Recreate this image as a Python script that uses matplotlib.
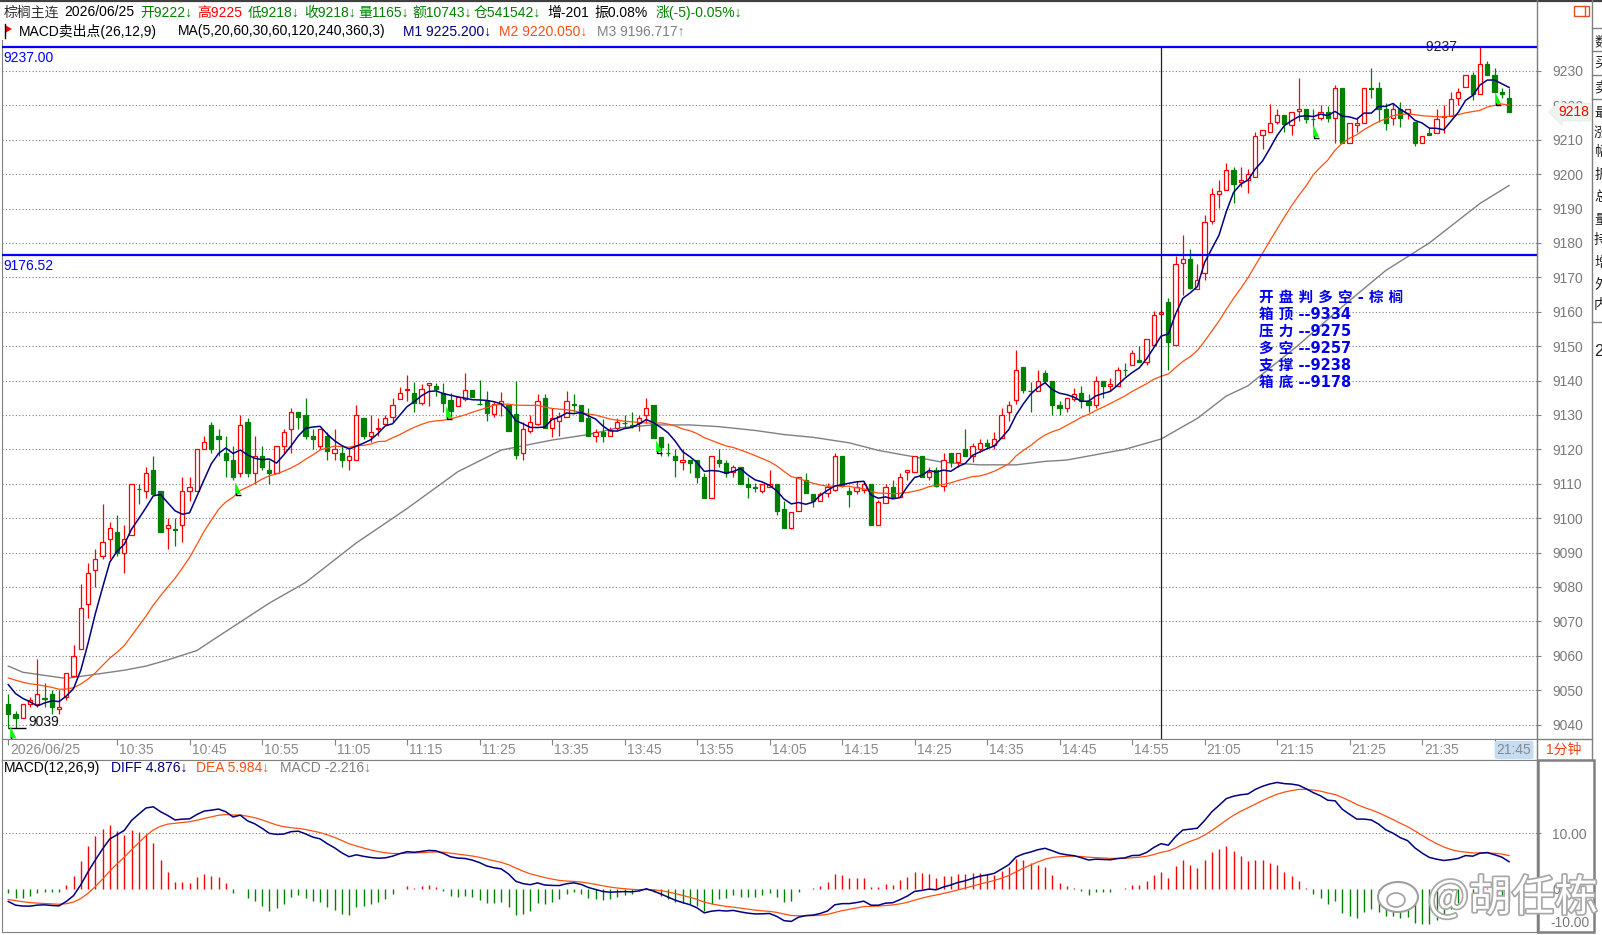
import numpy as np
import pandas as pd
import matplotlib
matplotlib.use("Agg")
import matplotlib.pyplot as plt
import matplotlib.patheffects as pe
import matplotlib.transforms as mtransforms
from matplotlib.lines import Line2D
from matplotlib.patches import Rectangle, Polygon, Ellipse
from matplotlib.path import Path

plt.rcParams['font.family'] = ['Liberation Sans', 'Noto Sans CJK SC', 'DejaVu Sans']

# ---- 1-minute bars (棕榈主连 2026/06/25) ----
opens = [
    9046, 9043, 9042, 9046, 9046, 9047.6, 9049, 9044.5, 9048, 9054,
    9062, 9075, 9085, 9089, 9094, 9096, 9090, 9095, 9108.6, 9108,
    9114, 9108, 9097, 9096.9, 9098, 9108, 9108, 9120, 9127, 9124,
    9119, 9117, 9113, 9128, 9113, 9118, 9114, 9113, 9121, 9126,
    9131, 9130, 9124, 9121, 9124, 9119, 9119, 9117, 9117, 9129,
    9124, 9126, 9127.5, 9129.5, 9134.5, 9137.2, 9136.5, 9133.5, 9138.7, 9138.3,
    9136.4, 9134.4, 9132.5, 9134.6, 9137.3, 9133.3, 9134.2, 9130.3, 9133.2, 9133,
    9130.3, 9119, 9125.2, 9127.3, 9134.9, 9126.2, 9128.1, 9129.4, 9133.1, 9133,
    9129.1, 9124, 9125, 9124, 9126.2, 9127.7, 9127.1, 9127.6, 9130.1, 9133,
    9123.7, 9118.9, 9118.1, 9116.2, 9116.9, 9116.9, 9112.1, 9106, 9116.9, 9116.1,
    9113.5, 9114.8, 9109.8, 9109, 9108, 9109.1, 9109.9, 9102.8, 9097.1, 9102.2,
    9111.1, 9107, 9105.1, 9107.3, 9108.2, 9118.1, 9107.9, 9108, 9108.2, 9110,
    9098.1, 9104.4, 9109, 9106.1, 9113.3, 9113.3, 9118.1, 9112.1, 9114, 9109.4,
    9118.9, 9116.2, 9120.1, 9118.2, 9120.2, 9121.8, 9121.3, 9123.2, 9130.9, 9134.3,
    9144, 9137, 9137, 9142.1, 9139.8, 9132.9, 9132.1, 9134.5, 9136.4, 9134,
    9133, 9139.8, 9138.5, 9138.5, 9143.2, 9144.4, 9146.1, 9145.3, 9150.2, 9159.4,
    9162.9, 9150.2, 9174.2, 9175.2, 9166.5, 9171.3, 9186.4, 9194.1, 9195.4, 9201.1,
    9197.8, 9198.3, 9199.3, 9211.4, 9212.3, 9215.2, 9217.1, 9214.3, 9218.3, 9219,
    9216, 9216.3, 9218.2, 9216.3, 9225, 9209.2, 9214.2, 9214.9, 9225.1, 9225,
    9219, 9216.3, 9218.9, 9217.7, 9215.3, 9209.2, 9212.1, 9212.1, 9216.7, 9216.9,
    9222.1, 9225.2, 9228.8, 9223.3, 9232, 9228.8, 9224, 9222]
highs = [
    9049, 9044, 9046, 9048, 9059, 9052, 9050, 9050, 9055, 9063,
    9081, 9087, 9091, 9104, 9099, 9101, 9098, 9110, 9110, 9115,
    9118, 9108, 9100, 9100, 9112, 9112, 9120, 9124, 9128, 9126,
    9124, 9121, 9130, 9129, 9124, 9121, 9117, 9121, 9126, 9132,
    9131, 9135, 9126, 9126, 9125, 9126, 9121, 9120, 9133, 9129,
    9130, 9129, 9130, 9135, 9138, 9141.5, 9139.5, 9139, 9139.2, 9139.3,
    9139.3, 9136.3, 9135.1, 9142.2, 9137.3, 9140.2, 9137.1, 9134.2, 9136.6, 9133,
    9140, 9128, 9130.1, 9136.2, 9136.2, 9132, 9131, 9136.9, 9136.2, 9133,
    9132, 9126, 9128.8, 9126.4, 9129.1, 9130.1, 9130.8, 9130.1, 9134.9, 9133,
    9123.7, 9121.8, 9120, 9120, 9116.9, 9116.9, 9113.2, 9118.1, 9120.1, 9116.9,
    9115.5, 9114.8, 9112.1, 9110.1, 9109.9, 9114, 9109.9, 9105, 9101.9, 9111.9,
    9113.1, 9107, 9107.7, 9110.2, 9118.9, 9118.1, 9109.2, 9110.9, 9110.9, 9110,
    9105.3, 9110, 9111.1, 9113.1, 9114, 9118.1, 9118.1, 9115, 9115, 9118.9,
    9118.9, 9118.9, 9125.9, 9121.8, 9123.1, 9123.1, 9125.1, 9131.9, 9134.1, 9148.8,
    9144, 9139.7, 9143, 9143, 9139.8, 9134.1, 9134.8, 9137.8, 9138.3, 9136,
    9141.3, 9139.8, 9140.8, 9144, 9145.1, 9149, 9150, 9152.1, 9160.2, 9160.4,
    9164, 9176.2, 9182.2, 9178.1, 9174, 9188.1, 9196.1, 9198.3, 9203.1, 9202.2,
    9202.2, 9201.4, 9212.3, 9212.8, 9220.3, 9219, 9217.1, 9218.2, 9228, 9219,
    9218.9, 9220, 9219.7, 9226, 9225, 9214.8, 9216.6, 9225, 9230.8, 9226.9,
    9220.6, 9220.6, 9221.1, 9218.9, 9215.3, 9211.1, 9213.3, 9218.9, 9220.2, 9224,
    9225, 9228.8, 9229.8, 9237, 9233, 9230.8, 9225, 9225]
lows = [
    9039, 9039, 9042, 9045, 9045, 9045, 9043, 9043, 9047, 9054,
    9062, 9071, 9080, 9088, 9088, 9089, 9084, 9095, 9104, 9106,
    9107, 9096, 9091, 9092, 9093, 9105, 9108, 9120, 9119, 9118,
    9112, 9111, 9112, 9112, 9110, 9114, 9110, 9113, 9119, 9119,
    9126, 9123, 9120, 9120, 9117, 9117, 9115, 9114, 9117, 9123,
    9122, 9124, 9127, 9128, 9134.5, 9134, 9131, 9133, 9132.5, 9135.5,
    9131, 9129.3, 9132.5, 9134.2, 9135.1, 9133, 9128.3, 9129.3, 9129.6, 9125.4,
    9117.1, 9117, 9124.7, 9127.1, 9126.2, 9123.7, 9124, 9129.4, 9131, 9128.1,
    9124, 9122, 9122, 9124, 9125.7, 9126.2, 9126.2, 9125.2, 9127.6, 9123.3,
    9118.2, 9118.2, 9112.1, 9114, 9113.2, 9110.1, 9106, 9106, 9114.8, 9112.1,
    9112.1, 9109.9, 9106, 9107.7, 9107.2, 9109.1, 9100.9, 9097, 9096.8, 9102.2,
    9107.3, 9103.2, 9105.1, 9106.1, 9108, 9109.2, 9103.2, 9107.1, 9107.3, 9098.1,
    9098.1, 9104.4, 9106.1, 9106.1, 9111.1, 9113.3, 9112.1, 9111.1, 9109, 9108,
    9115, 9115, 9118.1, 9116.2, 9119.3, 9120.1, 9120.2, 9123.2, 9128.3, 9133.2,
    9136.3, 9131, 9137, 9139.2, 9130, 9130, 9131, 9134, 9132, 9131,
    9132, 9134.9, 9136.9, 9138.5, 9141.3, 9144.4, 9145.3, 9144.4, 9150.2, 9159.4,
    9143.2, 9150.2, 9165, 9166.5, 9166.5, 9169.2, 9185.4, 9190.2, 9195.4, 9191.5,
    9196.3, 9194.4, 9199.3, 9207.4, 9212.3, 9214.5, 9212.3, 9211.3, 9215.5, 9215,
    9213.6, 9215.8, 9215.3, 9209, 9209.2, 9209.2, 9212.4, 9214.9, 9222.1, 9215.3,
    9212.9, 9214.2, 9213.8, 9216.1, 9208.2, 9209.2, 9211.4, 9212.1, 9212.1, 9216.9,
    9220, 9225.2, 9221.6, 9223.3, 9228.8, 9224, 9222.1, 9218]
closes = [
    9043, 9042, 9046, 9047, 9049, 9047.4, 9045, 9045, 9055, 9060,
    9074, 9084, 9088, 9093, 9097, 9090, 9094, 9110, 9108.4, 9113,
    9107, 9096, 9098, 9096.7, 9108, 9109, 9120, 9122, 9120, 9123,
    9117, 9112, 9127, 9113, 9118, 9115, 9113, 9121, 9125, 9131,
    9129.5, 9124, 9123, 9126, 9119.5, 9120, 9117, 9118, 9130, 9124,
    9125, 9126.2, 9129, 9133, 9136.5, 9137.4, 9133.5, 9137.5, 9139.2, 9137.4,
    9133.4, 9131.2, 9135.1, 9137.3, 9135.1, 9133.1, 9130.5, 9133.2, 9134.2, 9125.4,
    9118.4, 9126, 9127.9, 9134, 9126.2, 9129.1, 9129.6, 9134, 9133, 9128.1,
    9124, 9125, 9124, 9125.7, 9127.9, 9127.6, 9126.7, 9129.1, 9132, 9123.3,
    9120.8, 9118.8, 9116.9, 9116.9, 9116.1, 9112.1, 9106, 9118.1, 9116.1, 9113,
    9114.8, 9109.9, 9109.1, 9108.9, 9109.9, 9109.8, 9102.1, 9097, 9101.9, 9111.9,
    9107.3, 9105.1, 9107, 9109.2, 9118.1, 9109.4, 9107.1, 9109, 9110, 9098.1,
    9104.8, 9109, 9106.1, 9111.9, 9114, 9118.1, 9112.1, 9113.3, 9109.4, 9116.9,
    9116.4, 9118.9, 9118.1, 9121, 9121.8, 9121.1, 9122.9, 9130, 9132.9, 9143,
    9137.2, 9136.9, 9139.8, 9139.9, 9132.9, 9132.1, 9134.8, 9136.1, 9134, 9133,
    9139.8, 9138.3, 9139.1, 9143, 9143.1, 9148, 9145.3, 9152.1, 9159.2, 9160,
    9151.1, 9174, 9175.2, 9167, 9169.1, 9186.2, 9194.1, 9195.1, 9201.1, 9197,
    9198.2, 9200.1, 9211.1, 9212.8, 9215, 9217.1, 9214.5, 9218.2, 9219, 9216.1,
    9215.9, 9218, 9216.2, 9225, 9209.2, 9214.8, 9214.8, 9225, 9224.9, 9218.9,
    9215, 9218.9, 9216.3, 9218.9, 9209.2, 9211.1, 9211.4, 9216, 9216.8, 9221.8,
    9223.8, 9228.8, 9223.3, 9232, 9228.8, 9224, 9223.3, 9218]

# closes before the visible window (warm-up for MA5/MA20 and MACD)
pre_close = [9063, 9061, 9062, 9060, 9059, 9061, 9058, 9057, 9059, 9056,
             9057, 9055, 9058, 9056, 9054, 9055, 9053, 9056, 9054, 9052,
             9053, 9055, 9052, 9050, 9054, 9056, 9055, 9053, 9052, 9055]

# MA60 (grey line) read at selected bars
ma60_bar = [0, 2, 4, 8, 12, 16, 19, 22, 26, 28, 32, 36, 41, 48, 55, 62, 68, 75,
            80, 84, 89, 94, 98, 103, 107, 111, 116, 120, 125, 129, 134, 139, 143,
            146, 154, 159, 164, 168, 171, 178, 184, 190, 196, 203, 207]
ma60_val = [9057, 9055.2, 9054.6, 9053.4, 9054.6, 9055.8, 9057, 9058.8, 9061.5,
            9064.3, 9069.8, 9075.3, 9081.3, 9092.8, 9102.8, 9113.5, 9119.8, 9122.7,
            9124.3, 9126.2, 9127.1, 9127.1, 9126.6, 9125.5, 9124.3, 9123.5, 9121.9,
            9119.7, 9117.8, 9116.2, 9115.5, 9115.5, 9116.5, 9116.9, 9120, 9123,
            9129, 9135.5, 9138.5, 9150.4, 9161.5, 9172, 9180, 9191.5, 9196.7]

# MACD sell-point flags
sell_bar = [0.5, 31.5, 60.6, 89.6, 180.3, 205.3]
sell_price = [9037.5, 9108.6, 9130.5, 9120.6, 9212.4, 9221.8]

time_bar = [0, 15, 25, 35, 45, 55, 65, 75, 85, 95, 105, 115, 125, 135, 145, 155,
            165, 175, 185, 195, 205]
time_lab = ['2026/06/25', '10:35', '10:45', '10:55', '11:05', '11:15', '11:25',
            '13:35', '13:45', '13:55', '14:05', '14:15', '14:25', '14:35', '14:45',
            '14:55', '21:05', '21:15', '21:25', '21:35', '21:45']
price_ticks = list(range(9040, 9231, 10))
box_levels = [9237.00, 9176.52]
cursor_bar = 159
note_lines = ['开 盘 判 多 空 - 棕 榈', '箱 顶 --9334', '压 力 --9275',
              '多 空 --9257', '支 撑 --9238', '箱 底 --9178']

# ---- derived indicators ----
c_all = pd.Series(pre_close + closes, dtype=float)
npre = len(pre_close)
ma5 = c_all.rolling(5).mean().values[npre:]
ma20 = c_all.rolling(20).mean().values[npre:]
ema12 = c_all.ewm(span=12, adjust=False).mean()
ema26 = c_all.ewm(span=26, adjust=False).mean()
dif = ema12 - ema26
dea = dif.ewm(span=9, adjust=False).mean()
hist = (2 * (dif - dea)).values[npre:]
dif = dif.values[npre:]
dea = dea.values[npre:]

# ---- layout in pixels ----
W, H = 1602, 935
GRAY = '#808080'
UP, DN = '#ff0000', '#008000'
NAVY, ORANGE = '#000080', '#ff5010'


def rect(x0, y0, x1, y1):
    return [x0 / W, 1 - y1 / H, (x1 - x0) / W, (y1 - y0) / H]


def fx(x):
    return x / W


def fy(y):
    return 1 - y / H


fig = plt.figure(figsize=(W / 100, H / 100), dpi=100)
fig.patch.set_facecolor('white')

n = len(closes)
x = np.arange(n)
xlim = ((2 - 8.3) / 7.25, (1537 - 8.3) / 7.25)

ax = fig.add_axes(rect(2, 40, 1537, 739))
ax_t = fig.add_axes(rect(2, 739, 1537, 760))
ax_m = fig.add_axes(rect(2, 760, 1537, 932))

# ---- price panel ----
ax.set_xlim(*xlim)
ax.set_ylim(9035.8, 9239.0)
ax.set_xticks([])
ax.yaxis.tick_right()
ax.set_yticks(price_ticks)
ax.set_yticklabels([str(t) for t in price_ticks])
ax.tick_params(axis='y', direction='out', length=3, width=0.8, color=GRAY,
               pad=8, labelsize=10, labelcolor='#7a7a7a')
ax.grid(axis='y', ls=(0, (1, 2)), color=GRAY, lw=0.8)
for s in ax.spines.values():
    s.set_color(GRAY)
ax.spines['top'].set_visible(False)

body_w = 0.6
for i in range(n):
    o, h, l, c = opens[i], highs[i], lows[i], closes[i]
    col = UP if c >= o else DN
    ax.vlines(i, l, h, color=col, lw=0.9, zorder=2)
    ax.add_patch(Rectangle((i - body_w / 2, min(o, c)), body_w, abs(c - o),
                           facecolor='white' if c >= o else col, edgecolor=col,
                           lw=0.9, zorder=3))

ax.plot(ma60_bar, ma60_val, color=GRAY, lw=1.0, zorder=1.5)
ax.plot(x, ma20, color=ORANGE, lw=0.9, zorder=4)
ax.plot(x, ma5, color=NAVY, lw=1.1, zorder=4)

for v in box_levels:
    ax.axhline(v, color='#0000ff', lw=1.6, zorder=5)
    ax.annotate(f'{v:.2f}', xy=(0, v), xycoords=ax.get_yaxis_transform(),
                xytext=(1, -3), textcoords='offset points', ha='left', va='top',
                fontsize=10, color='#0000ff')

ax.axvline(cursor_bar, ymax=0.99, color='#202020', lw=0.9, zorder=5)

# high / low markers
hi_i = int(np.argmax(highs))
lo_i = int(np.argmin(lows))
ax.annotate(f'{highs[hi_i]:.0f} –', xy=(hi_i, highs[hi_i]), xytext=(-8.5, 0),
            textcoords='offset points', ha='right', va='center', fontsize=10,
            color='#202020')
ax.hlines(lows[lo_i], lo_i, lo_i + 2.4, color='black', lw=1, zorder=5)
ax.annotate(f'{lows[lo_i]:.0f}', xy=(lo_i, lows[lo_i]), xytext=(14.2, 1.5),
            textcoords='offset points', ha='left', va='baseline', fontsize=10,
            color='#101010')

# sell-point flags
tri = Path([(-0.45, 1.0), (-0.45, -0.75), (0.55, -0.75), (-0.45, 1.0)],
           [Path.MOVETO, Path.LINETO, Path.LINETO, Path.CLOSEPOLY])
foot = Path([(-0.2, -0.75), (-0.2, -1.0), (0.75, -1.0)],
            [Path.MOVETO, Path.LINETO, Path.LINETO])
ax.plot(sell_bar, sell_price, ls='none', marker=tri, ms=8, mfc='#00ff00',
        mec='#00ff00', mew=0.5, zorder=6)
ax.plot(sell_bar, sell_price, ls='none', marker=foot, ms=8, mfc='none',
        mec='black', mew=1.0, zorder=6)

# last price tag
ax.text(1.0137, closes[-1], f'{closes[-1]:.0f}',
        transform=ax.get_yaxis_transform(), ha='left', va='center', fontsize=10,
        color='#ff0000', zorder=10,
        bbox=dict(boxstyle='larrow,pad=0.12', fc='#eef4ee', ec='#e0e8e0', lw=0.5))

# key levels note
for k, line in enumerate(note_lines):
    fig.text(fx(1259), fy(297 + 17 * k), line, ha='left', va='center',
             fontsize=10.5, fontweight='bold', color='#0000ee',
             family=['DejaVu Sans', 'Noto Sans CJK SC'])

# ---- time row ----
ax_t.set_xlim(*xlim)
ax_t.set_ylim(0, 1)
ax_t.set_xticks([])
ax_t.set_yticks([])
for s in ax_t.spines.values():
    s.set_color(GRAY)
for b, lab in zip(time_bar, time_lab):
    ax_t.vlines(b, 0.7, 1.0, color=GRAY, lw=0.8)
    kw = {}
    if lab == time_lab[-1]:
        kw['bbox'] = dict(boxstyle='round,pad=0.15', fc='#c5dcf2', ec='none')
    ax_t.text(b + 0.3, 0.48, lab, ha='left', va='center', fontsize=10,
              color='#8a8a8a', **kw)
fig.text(fx(1564), fy(750), '1分钟', ha='center', va='center', fontsize=10,
         color='#f04010')

# ---- MACD panel ----
ax_m.set_xlim(*xlim)
ax_m.set_ylim(-7.68, 23.04)
ax_m.set_xticks([])
ax_m.yaxis.tick_right()
ax_m.set_yticks([0, 10])
ax_m.set_yticklabels(['0', '10.00'])
ax_m.tick_params(axis='y', direction='out', length=3, width=0.8, color=GRAY,
                 pad=8, labelsize=10, labelcolor='#7a7a7a')
for s in ax_m.spines.values():
    s.set_color(GRAY)
ax_m.axhline(10, ls=(0, (1, 2)), color=GRAY, lw=0.8)
ax_m.vlines(x, 0, hist, colors=[UP if v >= 0 else DN for v in hist], lw=1.0)
ax_m.plot(x, dea, color=ORANGE, lw=0.9, zorder=4)
ax_m.plot(x, dif, color=NAVY, lw=1.1, zorder=4)
ax_m.text(1.0085, 0.05, '-10.00', transform=ax_m.transAxes, ha='left',
          va='center', fontsize=10, color='#7a7a7a')

# ---- header rows ----
row1 = [(4, '棕榈主连', '#303030'), (64, '2026/06/25', '#000000'),
        (140, '开9222↓', DN), (197, '高9225', UP), (248, '低9218↓', DN),
        (304, '收9218↓', DN), (358, '量1165↓', DN), (412, '额10743↓', DN),
        (474, '仓541542↓', DN), (547, '增-201', '#000000'),
        (594, '振0.08%', '#000000'), (656, '涨(-5)-0.05%↓', DN)]
for px, s, c in row1:
    fig.text(fx(px), fy(12.5), s, ha='left', va='center', fontsize=10, color=c)
row2 = [(19, 'MACD卖出点(26,12,9)', '#000000'),
        (178, 'MA(5,20,60,30,60,120,240,360,3)', '#000000'),
        (403, 'M1 9225.200↓', NAVY), (499, 'M2 9220.050↓', ORANGE),
        (597, 'M3 9196.717↑', GRAY)]
for px, s, c in row2:
    fig.text(fx(px), fy(31.5), s, ha='left', va='center', fontsize=10, color=c)
fig.add_artist(Polygon([(fx(5), fy(25)), (fx(12), fy(29)), (fx(5), fy(33))],
                       closed=True, fc='#ff0000', ec='none',
                       transform=fig.transFigure))
fig.add_artist(Line2D([fx(4.5), fx(4.5)], [fy(24), fy(38)], color='black', lw=1))

row3 = [(4, 'MACD(12,26,9)', '#000000'), (111, 'DIFF 4.876↓', NAVY),
        (196, 'DEA 5.984↓', ORANGE), (280, 'MACD -2.216↓', GRAY)]
for px, s, c in row3:
    fig.text(fx(px), fy(768), s, ha='left', va='center', fontsize=10, color=c)

# ---- frame lines and right-hand strip ----
fig.add_artist(Line2D([0, 1], [fy(0.8), fy(0.8)], color='#404040', lw=1.6))
fig.add_artist(Line2D([fx(1537), fx(1537)], [fy(0), fy(932)], color=GRAY, lw=1))
fig.add_artist(Line2D([fx(1592), fx(1592)], [fy(0), fy(760)], color=GRAY, lw=1))
fig.add_artist(Line2D([fx(1537), fx(1592)], [fy(739), fy(739)], color=GRAY, lw=1))
fig.add_artist(Rectangle((fx(1538), fy(932)), (1594 - 1538) / W, (932 - 760) / H,
                         fill=False, ec=GRAY, lw=1.8, transform=fig.transFigure))
fig.add_artist(Rectangle((fx(1574), fy(16)), 15 / W, 10 / H, fill=False,
                         ec='#e05020', lw=1, transform=fig.transFigure))
fig.add_artist(Line2D([fx(1585), fx(1585)], [fy(6), fy(16)], color='#e05020', lw=1))
for yy in [28, 51, 75, 99, 322]:
    fig.add_artist(Line2D([fx(1592), 1], [fy(yy), fy(yy)], color=GRAY, lw=1))
strip_chars = ['数', '买', '卖', '最', '涨', '幅', '振', '总', '量', '持', '增', '外', '内']
strip_y = [42, 63, 87, 113, 133, 152, 175, 197, 220, 240, 263, 285, 305]
for ch, yy in zip(strip_chars, strip_y):
    fig.text(fx(1594), fy(yy), ch, ha='left', va='center', fontsize=10,
             color='#202020')
fig.text(fx(1594), fy(352), '2', ha='left', va='center', fontsize=12,
         color='#202020')

# ---- watermark ----
fig.add_artist(Ellipse((fx(1398), fy(897)), 40 / W, 30 / H, fc='white',
                       ec='#a0a0a0', lw=1.5, transform=fig.transFigure, zorder=20))
fig.add_artist(Ellipse((fx(1396), fy(900)), 18 / W, 14 / H, fc='white',
                       ec='#a0a0a0', lw=1.2, transform=fig.transFigure, zorder=20))
fig.text(fx(1428), fy(899), '@胡任栋', ha='left', va='center', fontsize=31,
         color='white', family=['Noto Sans CJK SC'], zorder=21,
         path_effects=[pe.withStroke(linewidth=2.5, foreground='#a8a8a8')])

fig.savefig('out.png', dpi=100, facecolor='white')
